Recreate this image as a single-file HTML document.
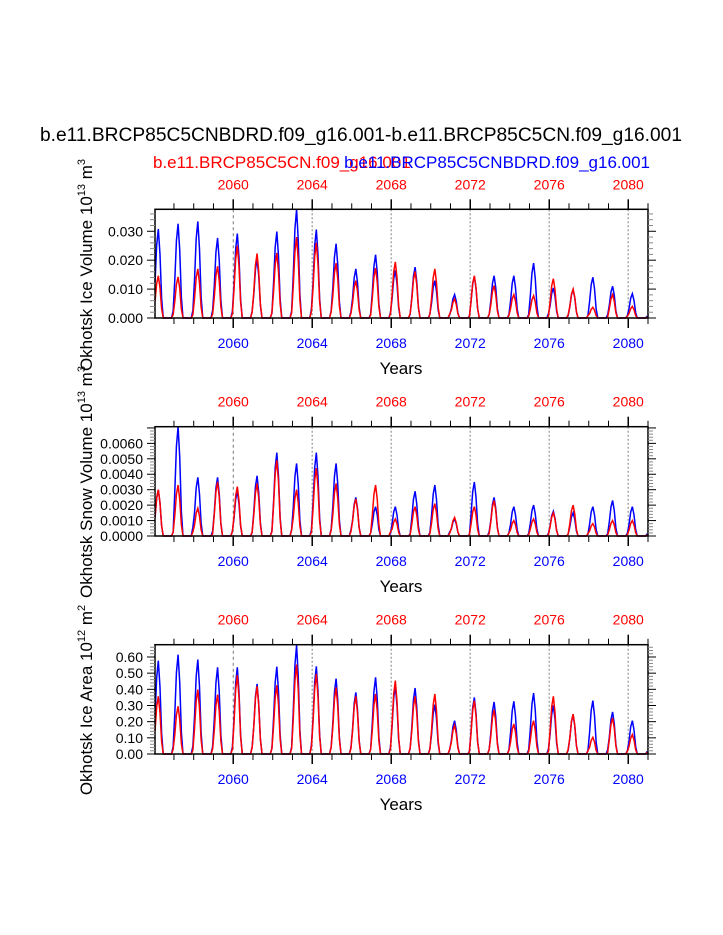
<!DOCTYPE html>
<html><head><meta charset="utf-8"><style>
body{margin:0;background:#fff;width:723px;height:935px;overflow:hidden}
svg{display:block;font-family:"Liberation Sans",sans-serif}
</style></head><body>
<svg id="c" width="723" height="935" viewBox="0 0 723 935">
<text x="361" y="141" font-size="19" text-anchor="middle" textLength="642" lengthAdjust="spacingAndGlyphs">b.e11.BRCP85C5CNBDRD.f09_g16.001-b.e11.BRCP85C5CN.f09_g16.001</text>
<text x="153" y="168" font-size="17" fill="#ff0000">b.e11.BRCP85C5CN.f09_g16.001</text>
<text x="650" y="168" font-size="17" fill="#0000ff" text-anchor="end">b.e11.BRCP85C5CNBDRD.f09_g16.001</text>
</svg>
<script>
const years=[2056,2057,2058,2059,2060,2061,2062,2063,2064,2065,2066,2067,2068,2069,2070,2071,2072,2073,2074,2075,2076,2077,2078,2079,2080];
const seasonShape=[0.4,0.82,1.0,0.72,0.22,0.0,0,0,0,0,0.0,0.08];
const iceVolBlue=[0.0308,0.0326,0.0334,0.0277,0.0292,0.0204,0.0299,0.0377,0.0306,0.0257,0.0170,0.0219,0.0165,0.0176,0.0129,0.0081,0.0144,0.0146,0.0146,0.0190,0.0104,0.0098,0.0141,0.0110,0.0084];
const iceVolRed=[0.0146,0.0142,0.0170,0.0179,0.0250,0.0223,0.0225,0.0280,0.0260,0.0190,0.0129,0.0173,0.0194,0.0161,0.0170,0.0066,0.0146,0.0112,0.0081,0.0077,0.0136,0.0100,0.0037,0.0081,0.0040];
const snowVolBlue=[0.0030,0.0071,0.0038,0.0038,0.0029,0.0039,0.0054,0.0047,0.0054,0.0047,0.0025,0.0019,0.0019,0.0029,0.0033,0.0011,0.0035,0.0025,0.0019,0.0020,0.0016,0.0015,0.0019,0.0023,0.0019];
const snowVolRed=[0.0030,0.0033,0.0018,0.0035,0.0032,0.0034,0.0049,0.0030,0.0044,0.0034,0.0024,0.0033,0.0011,0.0019,0.0021,0.0012,0.0019,0.0023,0.0010,0.0011,0.0015,0.0020,0.0008,0.0010,0.0010];
const iceAreaBlue=[0.577,0.614,0.584,0.536,0.536,0.433,0.540,0.672,0.542,0.466,0.381,0.474,0.420,0.408,0.305,0.206,0.350,0.322,0.326,0.377,0.300,0.243,0.330,0.260,0.206];
const iceAreaRed=[0.357,0.295,0.398,0.367,0.487,0.419,0.425,0.553,0.495,0.412,0.357,0.371,0.454,0.357,0.371,0.177,0.330,0.274,0.186,0.206,0.357,0.247,0.103,0.223,0.120];
const majorYears=[2060,2064,2068,2072,2076,2080];
const volTicks=["0.000","0.010","0.020","0.030"];
const snowTicks=["0.0000","0.0010","0.0020","0.0030","0.0040","0.0050","0.0060"];
const areaTicks=["0.00","0.10","0.20","0.30","0.40","0.50","0.60"];

const NS="http://www.w3.org/2000/svg",svg=document.getElementById('c');
function mk(t,a,p){const e=document.createElementNS(NS,t);for(const k in a)e.setAttribute(k,a[k]);(p||svg).appendChild(e);return e;}
const X0=155,X1=648,XMIN=2056.04,XMAX=2081.0;
const xs=v=>X0+(v-XMIN)/(XMAX-XMIN)*(X1-X0);

function panel(name,top,bot,ymax,ticks,minorStep,blue,red,ytitle,ysup1,yunit,ysup2,tyc){
  const g=mk('g',{});
  
  
  const ys=v=>bot-v/ymax*(bot-top);
  majorYears.forEach(y=>{const l=mk('line',{x1:xs(y),x2:xs(y),y1:top,y2:bot,stroke:y==2060?'#555':'#aaa','stroke-width':y==2060?0.8:1.5,'stroke-dasharray':y==2060?'3,3':'2,2'},g);
    
    });
  [[blue,'#0000ff','series-blue'],[red,'#ff0000','series-red']].forEach(([arr,col,nm])=>{
    let d='';
    years.forEach((y,i)=>seasonShape.forEach((s,m)=>{const x=xs(y+(m+0.5)/12),v=arr[i]*s;d+=(d?'L':'M')+x.toFixed(2)+','+Math.max(top,ys(v)).toFixed(2);}));
    const p=mk('path',{d:d,fill:'none',stroke:col,'stroke-width':1.5},g);
    
    
  });
  const fr=mk('rect',{x:X0,y:top,width:X1-X0,height:bot-top,fill:'none',stroke:'#000','stroke-width':1.5},g);
  
  
  for(let y=2056;y<=2081;y++){const x=xs(y);if(x<X0-0.5||x>X1+0.5)continue;const maj=y%4==0;const L=maj?10:6;
    mk('line',{x1:x,x2:x,y1:bot,y2:bot+L,stroke:'#000','stroke-width':maj?1.5:1},g);
    mk('line',{x1:x,x2:x,y1:top,y2:top-L,stroke:'#000','stroke-width':maj?1.5:1},g);}
  majorYears.forEach(y=>{
    const b=mk('text',{x:xs(y),y:bot+30,'font-size':14,fill:'#0000ff','text-anchor':'middle'},g);b.textContent=y;
    
    
    const t=mk('text',{x:xs(y),y:top-20,'font-size':14,fill:'#ff0000','text-anchor':'middle'},g);t.textContent=y;
    
    });
  const step=parseFloat(ticks[1]);
  for(let v=0;v<=ymax+1e-12;v+=minorStep){const y=ys(v);const maj=Math.abs(v/step-Math.round(v/step))<1e-6;const L=maj?8:5;
    mk('line',{x1:X0,x2:X0-L,y1:y,y2:y,stroke:maj?'#000':'#888','stroke-width':1},g);
    mk('line',{x1:X1,x2:X1+L,y1:y,y2:y,stroke:maj?'#000':'#888','stroke-width':1},g);}
  ticks.forEach(t=>{const e=mk('text',{x:X0-12,y:ys(parseFloat(t))+5,'font-size':14,'text-anchor':'end'},g);e.textContent=t;
    
    });
  const xt=mk('text',{x:401,y:bot+56,'font-size':17,'text-anchor':'middle'},g);xt.textContent='Years';
  
  
  const yt=mk('text',{x:0,y:0,'font-size':17,'text-anchor':'middle',transform:`translate(92,${tyc}) rotate(-90)`},g);
  yt.innerHTML=`${ytitle} 10<tspan dy="-7" font-size="11">${ysup1}</tspan><tspan dy="7"> ${yunit}</tspan><tspan dy="-7" font-size="11">${ysup2}</tspan>`;
  
  
}
panel('ice-volume-panel',209.3,318,0.0376,volTicks,0.002,iceVolBlue,iceVolRed,'Okhotsk Ice Volume','13','m','3',265);
panel('snow-volume-panel',426.7,536,0.00708,snowTicks,0.0002,snowVolBlue,snowVolRed,'Okhotsk Snow Volume','13','m','3',482);
panel('ice-area-panel',644.7,754,0.676,areaTicks,0.02,iceAreaBlue,iceAreaRed,'Okhotsk Ice Area','12','m','2',700);
</script>
</body></html>
